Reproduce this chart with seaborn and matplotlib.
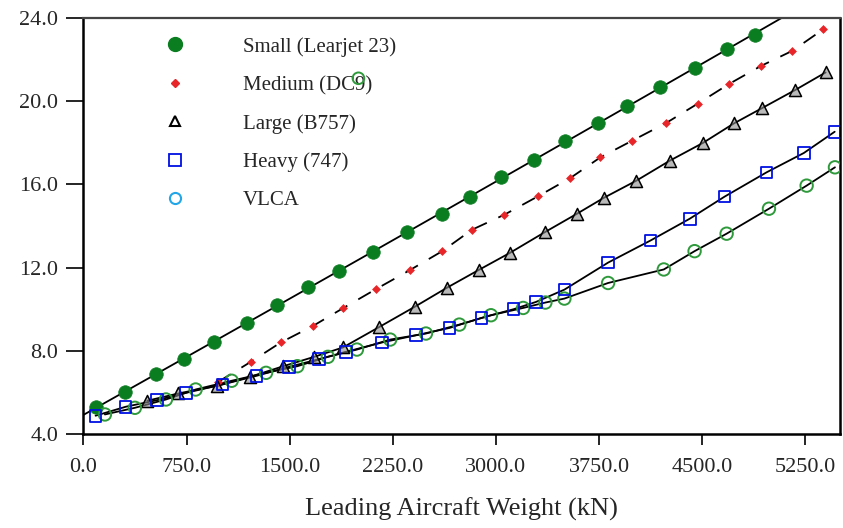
import numpy as np
import pandas as pd
import matplotlib
matplotlib.use("Agg")
import matplotlib.pyplot as plt
import seaborn as sns
from matplotlib.lines import Line2D

# values (x in kN)
small_x = [90, 301, 527, 731, 949, 1188, 1406, 1636, 1862, 2105, 2353, 2607, 2814, 3040, 3280, 3506, 3741, 3955, 4197, 4445, 4678, 4882]
small_y = [5.31, 6.00, 6.88, 7.60, 8.43, 9.34, 10.20, 11.06, 11.83, 12.74, 13.70, 14.59, 15.41, 16.34, 17.18, 18.07, 18.95, 19.75, 20.66, 21.60, 22.50, 23.20]

medium_x = [981, 1217, 1435, 1668, 1891, 2129, 2372, 2607, 2826, 3061, 3307, 3542, 3760, 3991, 4238, 4468, 4694, 4930, 5156, 5382]
medium_y = [6.51, 7.47, 8.40, 9.19, 10.06, 10.97, 11.87, 12.78, 13.82, 14.54, 15.43, 16.31, 17.30, 18.10, 18.95, 19.88, 20.82, 21.70, 22.42, 23.46]

large_x = [464, 690, 973, 1212, 1454, 1678, 1887, 2153, 2408, 2646, 2879, 3100, 3355, 3590, 3784, 4022, 4265, 4505, 4731, 4937, 5175, 5398]
large_y = [5.60, 5.95, 6.32, 6.75, 7.26, 7.71, 8.16, 9.15, 10.11, 11.04, 11.90, 12.70, 13.70, 14.59, 15.35, 16.18, 17.14, 17.99, 18.93, 19.67, 20.53, 21.38]

heavy_x = [88, 307, 537, 746, 1010, 1260, 1496, 1714, 1909, 2171, 2421, 2663, 2894, 3129, 3292, 3498, 3816, 4124, 4410, 4663, 4969, 5240, 5464]
heavy_y = [4.88, 5.31, 5.63, 5.98, 6.38, 6.80, 7.23, 7.60, 7.95, 8.40, 8.75, 9.10, 9.58, 10.00, 10.35, 10.94, 12.24, 13.30, 14.35, 15.41, 16.58, 17.51, 18.53]

vlca_x = [156, 374, 600, 816, 1078, 1328, 1556, 1778, 1989, 2231, 2491, 2734, 2964, 3198, 3360, 3498, 3816, 4221, 4445, 4678, 4986, 5260, 5466]
vlca_y = [4.94, 5.26, 5.66, 6.14, 6.56, 6.94, 7.26, 7.71, 8.06, 8.54, 8.83, 9.26, 9.71, 10.06, 10.32, 10.51, 11.26, 11.91, 12.79, 13.63, 14.83, 15.94, 16.82]

# stray VLCA symbol sitting next to the legend
stray_x = [2000]
stray_y = [21.1]

labels = ["Small (Learjet 23)", "Medium (DC9)", "Large (B757)", "Heavy (747)", "VLCA"]
x_ticks = [0, 750, 1500, 2250, 3000, 3750, 4500, 5250]
y_ticks = [4, 8, 12, 16, 20, 24]

sns.set_style("ticks")
plt.rcParams['font.family'] = ['Liberation Serif', 'DejaVu Serif']

fig, ax = plt.subplots(figsize=(8.43, 5.28), dpi=100)
fig.subplots_adjust(left=0.099, right=0.996, top=0.966, bottom=0.178)
ax.set_xlim(0, 5500)
ax.set_ylim(4, 24)

green = "#0b7d21"
vgreen = "#2f9a3c"
red = "#e8262a"
blue = "#0010e0"

# connecting lines
sns.regplot(x=small_x, y=small_y, order=2, ci=None, scatter=False, truncate=False,
            line_kws=dict(color="black", lw=1.3), ax=ax)
sns.lineplot(x=medium_x, y=medium_y, color="black", lw=1.3, ax=ax,
             linestyle=(0, (8, 7)))
sns.lineplot(x=large_x, y=large_y, color="black", lw=1.3, ax=ax)
sns.lineplot(x=heavy_x, y=heavy_y, color="black", lw=1.3, ax=ax)
sns.lineplot(x=vlca_x, y=vlca_y, color="black", lw=1.3, ax=ax)

# markers
sns.scatterplot(x=small_x, y=small_y, color=green, s=95, edgecolor=green, linewidth=0.5, zorder=5, ax=ax)
sns.scatterplot(x=medium_x, y=medium_y, color=red, marker="D", s=16, edgecolor=red, linewidth=0.5, zorder=5, ax=ax)
sns.scatterplot(x=large_x, y=large_y, marker="^", s=75, facecolor=(0.55, 0.55, 0.55, 0.6),
                edgecolor="black", linewidth=1.1, zorder=5, ax=ax)
sns.scatterplot(x=vlca_x, y=vlca_y, marker="o", s=80, facecolor="none",
                edgecolor=vgreen, linewidth=1.4, zorder=5, ax=ax)
sns.scatterplot(x=heavy_x, y=heavy_y, marker="s", s=70, facecolor="none",
                edgecolor=blue, linewidth=1.3, zorder=6, ax=ax)
sns.scatterplot(x=stray_x, y=stray_y, marker="o", s=70, facecolor="none",
                edgecolor=vgreen, linewidth=1.4, zorder=6, ax=ax)

ax.set_xticks(x_ticks)
ax.set_yticks(y_ticks)
ax.set_xticklabels([f"{v:.1f}" for v in x_ticks])
ax.set_yticklabels([f"{v:.1f}" for v in y_ticks])
ax.tick_params(axis="both", direction="out", width=1.2, labelsize=16, color="black")
ax.tick_params(axis="x", length=8, pad=9)
ax.tick_params(axis="y", length=12, pad=6)
ax.set_xlabel("Leading Aircraft Weight (kN)", fontsize=19, labelpad=15)
ax.set_ylabel("")

for side in ["left", "right", "bottom"]:
    ax.spines[side].set_visible(True)
    ax.spines[side].set_color("black")
    ax.spines[side].set_linewidth(1.8)
ax.spines["top"].set_visible(True)
ax.spines["top"].set_color("#444444")
ax.spines["top"].set_linewidth(1.6)

handles = [
    Line2D([], [], ls="none", marker="o", ms=10, mfc=green, mec=green),
    Line2D([], [], ls="none", marker="D", ms=4, mfc=red, mec=red),
    Line2D([], [], ls="none", marker="^", ms=7, mfc="white", mec="black", mew=1.5),
    Line2D([], [], ls="none", marker="s", ms=8, mfc="white", mec=blue, mew=1.3),
    Line2D([], [], ls="none", marker="o", ms=8, mfc="white", mec="#22a6e8", mew=1.5),
]
ax.legend(handles, labels, loc="upper left", bbox_to_anchor=(164.6 / 843, 1 - 37 / 528),
          bbox_transform=fig.transFigure, frameon=False, fontsize=15, handlelength=1,
          handletextpad=2.77, labelspacing=0.9, borderpad=0, borderaxespad=0)

fig.savefig("out.png", dpi=100)
